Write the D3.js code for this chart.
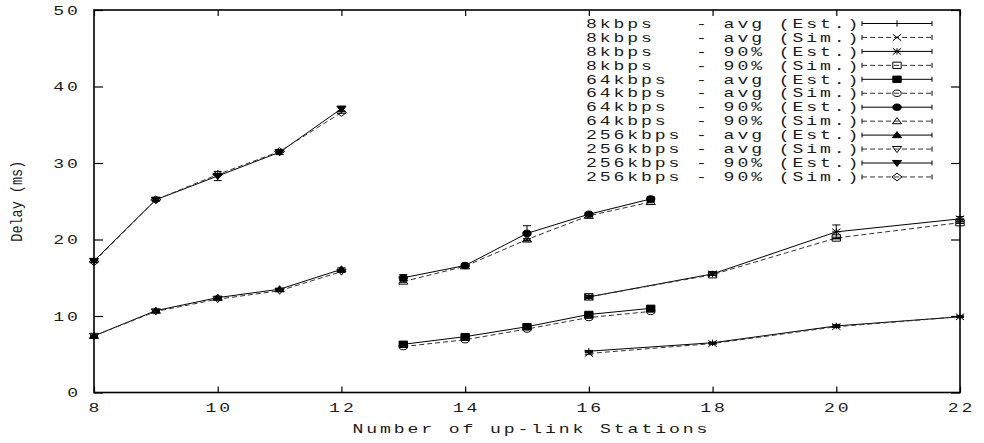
<!DOCTYPE html>
<html>
<head>
<meta charset="utf-8">
<script src="https://cdn.jsdelivr.net/npm/d3@7"></script>
<style>
  html, body { margin: 0; padding: 0; background: #fff; }
  svg { display: block; }
  text { font-family: "Liberation Mono", "DejaVu Sans Mono", monospace; fill: #1a1a1a; white-space: pre; }
</style>
</head>
<body>
<svg id="chart" width="984" height="443"></svg>
<script>
// ---------------- data ----------------
const xTicks = [8, 10, 12, 14, 16, 18, 20, 22];
const yTicks = [0, 10, 20, 30, 40, 50];
const xLabel = "Number of up-link Stations";
const yLabel = "Delay (ms)";

const x8   = [16, 18, 20, 22];
const x64  = [13, 14, 15, 16, 17];
const x256 = [8, 9, 10, 11, 12];

const k8AvgEst  = [5.4, 6.5, 8.7, 9.9];
const k8AvgSim  = [5.1, 6.4, 8.6, 9.9];
const k8P90Est  = [12.5, 15.5, 21.0, 22.7];
const k8P90Sim  = [12.5, 15.4, 20.2, 22.2];
const k64AvgEst = [6.3, 7.3, 8.6, 10.2, 11.0];
const k64AvgSim = [6.0, 6.9, 8.3, 9.8, 10.6];
const k64P90Est = [15.0, 16.6, 20.8, 23.3, 25.3];
const k64P90Sim = [14.5, 16.5, 20.0, 23.1, 24.9];
const k256AvgEst = [7.4, 10.7, 12.4, 13.5, 16.1];
const k256AvgSim = [7.4, 10.6, 12.2, 13.3, 15.8];
const k256P90Est = [17.2, 25.2, 28.3, 31.4, 37.1];
const k256P90Sim = [17.1, 25.2, 28.5, 31.5, 36.6];

// error-bar half widths
const e8AvgEst   = [0.1, 0.1, 0.2, 0.1];
const e8P90Est   = [0.2, 0.2, 0.9, 0.3];
const e64AvgEst  = [0.1, 0.1, 0.2, 0.1, 0.1];
const e64P90Est  = [0.4, 0.2, 1.0, 0.2, 0.3];
const e256AvgEst = [0.1, 0.1, 0.2, 0.1, 0.2];
const e256P90Est = [0.2, 0.2, 0.6, 0.3, 0.3];
const eSim = 0.1;

const legendLabels = [
  "8kbps   - avg (Est.)", "8kbps   - avg (Sim.)",
  "8kbps   - 90% (Est.)", "8kbps   - 90% (Sim.)",
  "64kbps  - avg (Est.)", "64kbps  - avg (Sim.)",
  "64kbps  - 90% (Est.)", "64kbps  - 90% (Sim.)",
  "256kbps - avg (Est.)", "256kbps - avg (Sim.)",
  "256kbps - 90% (Est.)", "256kbps - 90% (Sim.)"
];

const series = [
  { x: x8,   y: k8AvgEst,   e: e8AvgEst },
  { x: x8,   y: k8AvgSim,   e: null },
  { x: x8,   y: k8P90Est,   e: e8P90Est },
  { x: x8,   y: k8P90Sim,   e: null },
  { x: x64,  y: k64AvgEst,  e: e64AvgEst },
  { x: x64,  y: k64AvgSim,  e: null },
  { x: x64,  y: k64P90Est,  e: e64P90Est },
  { x: x64,  y: k64P90Sim,  e: null },
  { x: x256, y: k256AvgEst, e: e256AvgEst },
  { x: x256, y: k256AvgSim, e: null },
  { x: x256, y: k256P90Est, e: e256P90Est },
  { x: x256, y: k256P90Sim, e: null }
].map((s, i) => ({ ...s, label: legendLabels[i], dashed: i % 2 === 1, marker: i + 1 }));

// ---------------- layout ----------------
const SX = 1.45;          // horizontal stretch of glyphs
const FS = 12.5;
const LS = 2.0;           // letter spacing (local units) -> 13.8px pitch
const L = 94, R = 960, T = 10, B = 392.5;

const svg = d3.select("#chart");
const x = d3.scaleLinear().domain([8, 22]).range([L, R]);
const y = d3.scaleLinear().domain([0, 50]).range([B, T]);

function stext(parent, px, py, str, anchor) {
  const t = parent.append("g")
    .attr("transform", `translate(${px},${py}) scale(${SX},1)`)
    .append("text")
    .attr("font-size", FS)
    .attr("letter-spacing", LS)
    .text(str);
  // anchor manually so trailing letter-spacing does not shift alignment
  const w = str.length * (FS * 0.6 + LS) - LS;
  const dx = anchor === "middle" ? -w / 2 : anchor === "end" ? -w : 0;
  t.attr("x", dx);
  return t;
}

// axes: ticks on all four sides, pointing inward
const gAx = svg.append("g");
const axB = d3.axisBottom(x).tickValues(xTicks).tickSize(-6).tickFormat("");
const axT = d3.axisTop(x).tickValues(xTicks).tickSize(-6).tickFormat("");
const axL = d3.axisLeft(y).tickValues(yTicks).tickSize(-9).tickFormat("");
const axR = d3.axisRight(y).tickValues(yTicks).tickSize(-9).tickFormat("");
gAx.append("g").attr("transform", `translate(0,${B})`).call(axB);
gAx.append("g").attr("transform", `translate(0,${T})`).call(axT);
gAx.append("g").attr("transform", `translate(${L},0)`).call(axL);
gAx.append("g").attr("transform", `translate(${R},0)`).call(axR);
gAx.selectAll(".domain").remove();
gAx.selectAll(".tick line").attr("stroke", "#000").attr("stroke-width", 1.2);

// tick labels
xTicks.forEach(v => stext(svg, x(v), 412, String(v), "middle"));
yTicks.forEach(v => stext(svg, 78, y(v) + 4.5, String(v), "end"));

// axis titles
stext(svg, (L + R) / 2 + 3, 433, xLabel, "middle");
svg.append("g")
  .attr("transform", `translate(22,${(T + B) / 2}) scale(1.25,1) rotate(-90)`)
  .append("text").attr("text-anchor", "middle").attr("font-size", 13.5).text(yLabel);

// markers (gnuplot point types 1..12)
function markerPath(t, s) {
  switch (t) {
    case 1: return `M${-s},0H${s}M0,${-s}V${s}`;
    case 2: return `M${-s},${-s}L${s},${s}M${-s},${s}L${s},${-s}`;
    case 3: return `M${-s},0H${s}M0,${-s}V${s}M${-s},${-s}L${s},${s}M${-s},${s}L${s},${-s}`;
    case 4: case 5: return `M${-s},${-s}H${s}V${s}H${-s}Z`;
    case 6: case 7: return `M${-s},0A${s},${s} 0 1,0 ${s},0A${s},${s} 0 1,0 ${-s},0Z`;
    case 8: case 9: return `M0,${-s * 1.1}L${s * 1.1},${s * 0.8}L${-s * 1.1},${s * 0.8}Z`;
    case 10: case 11: return `M0,${s * 1.1}L${s * 1.1},${-s * 0.8}L${-s * 1.1},${-s * 0.8}Z`;
    case 12: return `M0,${-s * 1.2}L${s * 1.2},0L0,${s * 1.2}L${-s * 1.2},0Z`;
  }
}
const filled = t => [5, 7, 9, 11].includes(t);

function drawMarker(parent, px, py, t, s) {
  parent.append("path")
    .attr("transform", `translate(${px},${py}) scale(${SX * 0.9},1)`)
    .attr("d", markerPath(t, s))
    .attr("fill", filled(t) ? "#000" : "none")
    .attr("stroke", "#000")
    .attr("stroke-width", 1)
    .attr("vector-effect", "non-scaling-stroke");
}

const gPlot = svg.append("g");
const line = d3.line().x(d => x(d[0])).y(d => y(d[1]));
series.forEach(s => {
  const pts = s.x.map((xv, i) => [xv, s.y[i]]);
  gPlot.append("path")
    .attr("d", line(pts))
    .attr("fill", "none")
    .attr("stroke", s.dashed ? "#333" : "#000")
    .attr("stroke-width", 1)
    .attr("stroke-dasharray", s.dashed ? "5,3" : null);
  pts.forEach((p, i) => {
    const err = s.e ? s.e[i] : eSim;
    const px = x(p[0]);
    const y1 = y(p[1] + err), y2 = y(p[1] - err);
    gPlot.append("path")
      .attr("d", `M${px},${y1}V${y2}M${px - 4},${y1}H${px + 4}M${px - 4},${y2}H${px + 4}`)
      .attr("stroke", "#000").attr("stroke-width", 1).attr("fill", "none");
    drawMarker(gPlot, px, y(p[1]), s.marker, 3.2);
  });
});

// legend
const gLeg = svg.append("g");
const leg0 = 23.5, legStep = 13.95;
series.forEach((s, i) => {
  const cy = leg0 + i * legStep;
  stext(gLeg, 586, cy + 4.2, s.label, "start");
  const x1 = 862, x2 = 932;
  gLeg.append("path")
    .attr("d", `M${x1},${cy - 2.5}V${cy + 2.5}M${x2},${cy - 2.5}V${cy + 2.5}`)
    .attr("stroke", "#000").attr("stroke-width", 1).attr("fill", "none");
  gLeg.append("path")
    .attr("d", `M${x1},${cy}H${x2}`)
    .attr("stroke", s.dashed ? "#333" : "#000")
    .attr("stroke-width", 1)
    .attr("stroke-dasharray", s.dashed ? "5,3" : null);
  drawMarker(gLeg, (x1 + x2) / 2, cy, s.marker, 3.2);
});

// border
svg.append("rect")
  .attr("x", L).attr("y", T).attr("width", R - L).attr("height", B - T)
  .attr("fill", "none").attr("stroke", "#000").attr("stroke-width", 1.6);
</script>
</body>
</html>
